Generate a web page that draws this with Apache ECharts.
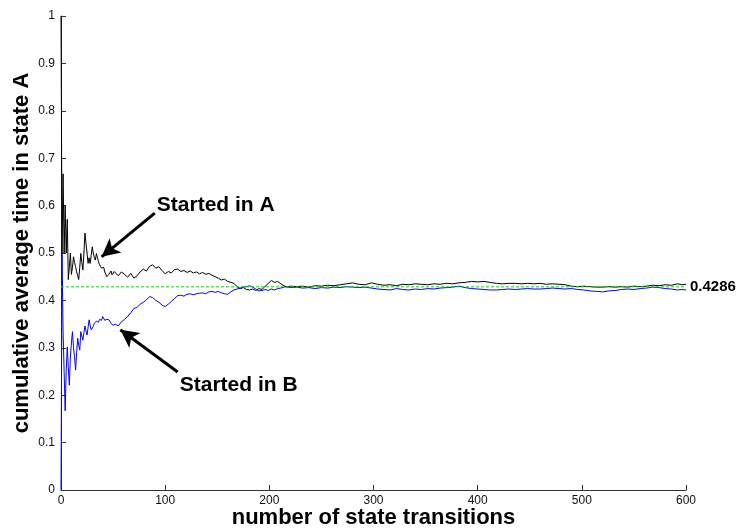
<!DOCTYPE html>
<html>
<head>
<meta charset="utf-8">
<script src="https://cdn.jsdelivr.net/npm/echarts@6/dist/echarts.min.js"></script>
<style>
  html, body { margin: 0; padding: 0; background: #fff; }
  #main { width: 738px; height: 529px; }
</style>
</head>
<body>
<div id="main"></div>
<script>
// steps and cumulative averages
var stepsA = [0,1,2,3,4,5,6,7,8,9,10,11,12,13,14,15,16,17,18,19,20,21,22,23,24,25,26,27,28,29,30,31,32,33,34,35,36,37,38,39,40,41,42,43,44,45,46,47,48,49,50,51,52,
  55,58,61,64,67,70,73,76,79,82,85,88,91,94,97,100,103,106,109,112,115,118,121,124,127,130,133,136,139,142,145,148,151,154,157,160,163,166,169,172,175,178,181,184,187,190,193,196,199,202,205,208,211,214,217,220,
  226,232,238,244,250,256,262,268,274,280,286,292,298,304,310,316,322,328,334,340,346,352,358,364,370,376,382,388,394,400,406,412,418,424,430,436,442,448,454,460,466,472,478,484,490,496,502,508,514,520,526,532,538,544,550,556,562,568,574,580,586,592,596,600];
var startedInA = [1,0.5,0.667,0.5,0.6,0.5,0.571,0.444,0.47,0.5,0.455,0.47,0.492,0.48,0.471,0.46,0.452,0.444,0.47,0.499,0.48,0.464,0.5,0.542,0.52,0.5,0.478,0.49,0.478,0.495,0.513,0.5,0.49,0.485,0.499,0.49,0.482,0.475,0.471,0.468,0.464,0.47,0.46,0.457,0.45,0.447,0.455,0.457,0.462,0.454,0.458,0.461,0.458,
  0.452,0.46,0.455,0.449,0.457,0.447,0.452,0.46,0.466,0.462,0.472,0.475,0.468,0.471,0.463,0.456,0.461,0.458,0.465,0.466,0.461,0.463,0.459,0.462,0.458,0.46,0.456,0.459,0.455,0.457,0.453,0.45,0.447,0.443,0.445,0.44,0.438,0.436,0.429,0.425,0.427,0.423,0.422,0.424,0.421,0.425,0.423,0.43,0.436,0.442,0.438,0.44,0.435,0.431,0.428,0.43,
  0.429,0.43,0.428,0.431,0.43,0.432,0.431,0.433,0.435,0.437,0.434,0.433,0.437,0.434,0.432,0.433,0.431,0.434,0.433,0.435,0.434,0.433,0.435,0.434,0.436,0.435,0.437,0.438,0.44,0.439,0.44,0.438,0.436,0.435,0.436,0.436,0.435,0.436,0.435,0.436,0.434,0.435,0.434,0.433,0.43,0.429,0.43,0.429,0.428,0.428,0.429,0.428,0.429,0.428,0.43,0.429,0.43,0.432,0.431,0.433,0.432,0.435,0.433,0.434];

var stepsB = [0,1,2,3,4,5,6,7,8,9,10,11,12,13,14,15,16,17,18,19,20,21,22,23,24,25,26,27,28,29,30,31,32,33,34,35,36,37,38,39,40,41,42,43,44,45,46,47,48,49,50,51,52,
  55,58,61,64,67,70,73,76,79,82,85,88,91,94,97,100,103,106,109,112,115,118,121,124,127,130,133,136,139,142,145,148,151,154,157,160,163,166,169,172,175,178,181,184,187,190,193,196,199,202,205,208,211,214,217,220,
  226,232,238,244,250,256,262,268,274,280,286,292,298,304,310,316,322,328,334,340,346,352,358,364,370,376,382,388,394,400,406,412,418,424,430,436,442,448,454,460,466,472,478,484,490,496,502,508,514,520,526,532,538,544,550,556,562,568,574,580,586,592,596,600];
var startedInB = [0,0.5,0.333,0.25,0.167,0.25,0.302,0.26,0.221,0.28,0.31,0.334,0.3,0.281,0.253,0.29,0.32,0.305,0.295,0.334,0.325,0.316,0.332,0.346,0.335,0.327,0.343,0.359,0.347,0.338,0.336,0.345,0.352,0.348,0.356,0.359,0.354,0.36,0.362,0.358,0.366,0.362,0.358,0.355,0.36,0.363,0.359,0.356,0.352,0.349,0.347,0.345,0.35,
  0.346,0.355,0.36,0.366,0.374,0.383,0.385,0.392,0.396,0.401,0.408,0.406,0.4,0.396,0.39,0.387,0.392,0.398,0.404,0.41,0.411,0.409,0.413,0.414,0.412,0.414,0.415,0.416,0.414,0.418,0.419,0.417,0.419,0.416,0.414,0.413,0.418,0.422,0.424,0.426,0.428,0.429,0.431,0.428,0.424,0.42,0.421,0.423,0.421,0.424,0.422,0.425,0.426,0.428,0.429,0.427,
  0.428,0.426,0.427,0.425,0.427,0.426,0.428,0.427,0.429,0.428,0.427,0.428,0.426,0.424,0.423,0.422,0.425,0.423,0.422,0.424,0.423,0.425,0.424,0.426,0.427,0.428,0.43,0.427,0.425,0.424,0.423,0.422,0.422,0.423,0.424,0.423,0.424,0.425,0.424,0.424,0.425,0.426,0.425,0.424,0.425,0.423,0.422,0.42,0.419,0.418,0.42,0.421,0.423,0.424,0.423,0.425,0.426,0.428,0.427,0.425,0.424,0.422,0.423,0.422];

var limitSteps = [0, 600];
var limitValue = 0.4286;

var xTicks = [0, 100, 200, 300, 400, 500, 600];

function pairs(xs, ys) {
  return xs.map(function (x, i) { return [x, ys[i]]; });
}

var chart = echarts.init(document.getElementById('main'), null, { renderer: 'canvas' });
var font = '"Liberation Sans", Arial, Helvetica, sans-serif';

var arrowStyle = { color: '#000', width: 3, type: 'solid' };

var option = {
  animation: false,
  backgroundColor: '#fff',
  textStyle: { fontFamily: font },
  grid: { left: 61, right: 52, top: 16, bottom: 39, containLabel: false, outerBoundsMode: 'none' },
  xAxis: {
    type: 'value',
    min: xTicks[0],
    max: xTicks[xTicks.length - 1],
    interval: 100,
    name: 'number of state transitions',
    nameLocation: 'middle',
    nameGap: 17,
    nameMoveOverlap: false,
    nameTextStyle: { fontFamily: font, fontSize: 22, fontWeight: 'bold', color: '#000' },
    axisLine: { show: true, onZero: false, lineStyle: { color: '#333', width: 1 } },
    axisTick: { show: true, inside: true, length: 5, lineStyle: { color: '#333' } },
    axisLabel: { fontFamily: font, fontSize: 12, color: '#111', margin: 5 },
    splitLine: { show: false }
  },
  yAxis: {
    type: 'value',
    min: 0,
    max: 1,
    interval: 0.1,
    name: 'cumulative average time in state A',
    nameLocation: 'middle',
    nameGap: 28,
    nameMoveOverlap: false,
    nameTextStyle: { fontFamily: font, fontSize: 22, fontWeight: 'bold', color: '#000' },
    axisLine: { show: true, lineStyle: { color: '#333', width: 1 } },
    axisTick: { show: true, inside: true, length: 5, lineStyle: { color: '#333' } },
    axisLabel: { fontFamily: font, fontSize: 12, color: '#111', margin: 6 },
    splitLine: { show: false }
  },
  series: [
    {
      name: 'Started in A',
      type: 'line',
      data: pairs(stepsA, startedInA),
      showSymbol: false,
      lineStyle: { color: '#000', width: 1 },
      z: 2,
      markLine: {
        silent: true,
        symbol: ['none', 'arrow'],
        symbolSize: [14, 18],
        label: { show: false },
        lineStyle: arrowStyle,
        data: [[{ coord: [90, 0.584] }, { coord: [39, 0.492] }]]
      },
      markPoint: {
        silent: true,
        symbol: 'circle',
        symbolSize: 0,
        label: {
          show: true, position: 'right', distance: 0,
          formatter: 'Started in A',
          fontFamily: font, fontSize: 21, fontWeight: 'bold', color: '#000'
        },
        data: [{ coord: [92, 0.6] }]
      }
    },
    {
      name: 'Started in B',
      type: 'line',
      data: pairs(stepsB, startedInB),
      showSymbol: false,
      lineStyle: { color: '#0000ff', width: 1 },
      z: 3,
      markLine: {
        silent: true,
        symbol: ['none', 'arrow'],
        symbolSize: [14, 18],
        label: { show: false },
        lineStyle: arrowStyle,
        data: [[{ coord: [112, 0.249] }, { coord: [57, 0.338] }]]
      },
      markPoint: {
        silent: true,
        symbol: 'circle',
        symbolSize: 0,
        label: {
          show: true, position: 'right', distance: 0,
          formatter: 'Started in B',
          fontFamily: font, fontSize: 21, fontWeight: 'bold', color: '#000'
        },
        data: [{ coord: [114, 0.222] }]
      }
    },
    {
      name: 'limit',
      type: 'line',
      data: pairs(limitSteps, [limitValue, limitValue]),
      showSymbol: false,
      lineStyle: { color: '#00e000', width: 1, type: [3, 2] },
      z: 4,
      endLabel: {
        show: true,
        formatter: String(limitValue),
        distance: 4,
        fontFamily: font, fontSize: 15, fontWeight: 'bold', color: '#000'
      }
    }
  ]
};

chart.setOption(option);
</script>
</body>
</html>
